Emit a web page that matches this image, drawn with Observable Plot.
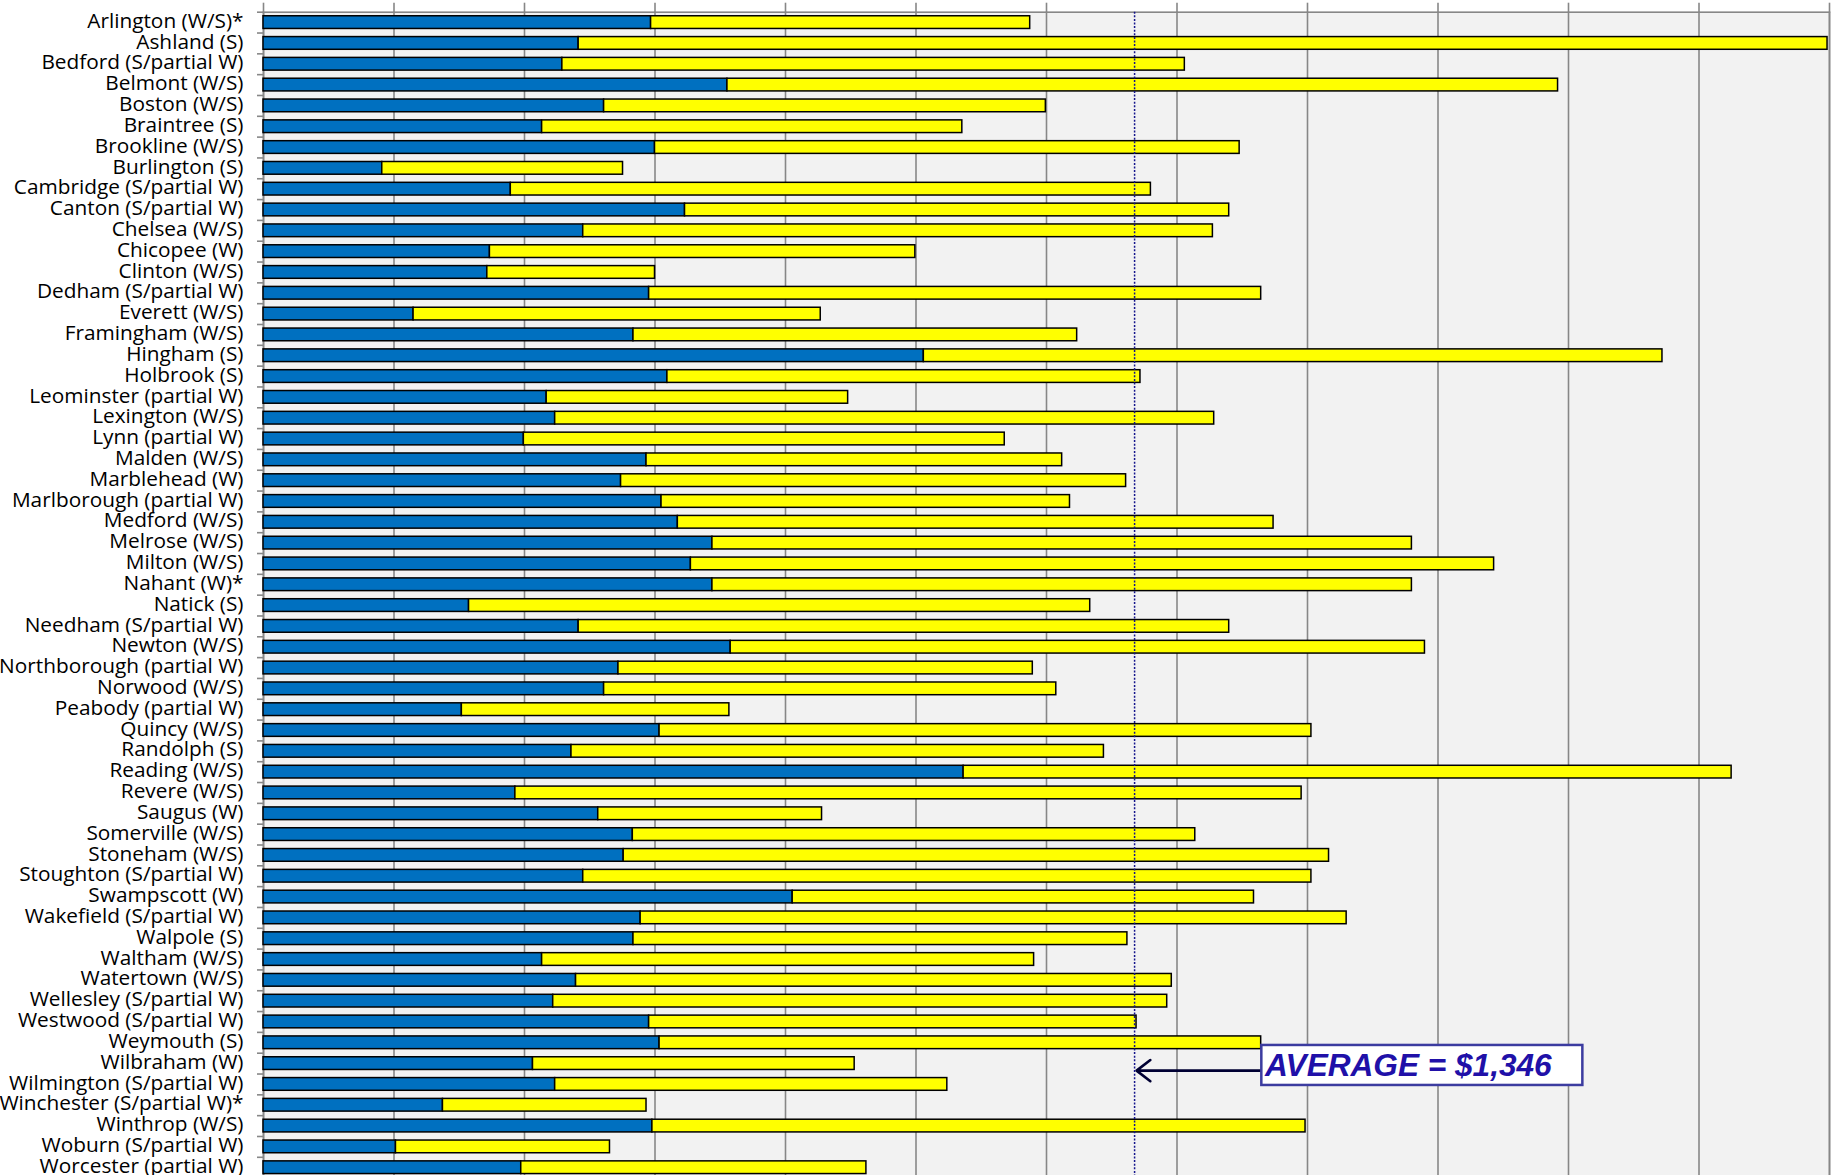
<!DOCTYPE html>
<html>
<head>
<meta charset="utf-8">
<script src="https://cdn.jsdelivr.net/npm/d3@7"></script>
<script src="https://cdn.jsdelivr.net/npm/@observablehq/plot@0.6"></script>
<style>
  html, body { margin: 0; padding: 0; background: #ffffff; overflow: hidden; }
  #chart svg { display: block; overflow: hidden; }
</style>
</head>
<body>
<div id="chart"></div>
<script>
// ---- data ----
const towns = [
  "Arlington (W/S)*", "Ashland (S)", "Bedford (S/partial W)", "Belmont (W/S)", "Boston (W/S)",
  "Braintree (S)", "Brookline (W/S)", "Burlington (S)", "Cambridge (S/partial W)", "Canton (S/partial W)",
  "Chelsea (W/S)", "Chicopee (W)", "Clinton (W/S)", "Dedham (S/partial W)", "Everett (W/S)",
  "Framingham (W/S)", "Hingham (S)", "Holbrook (S)", "Leominster (partial W)", "Lexington (W/S)",
  "Lynn (partial W)", "Malden (W/S)", "Marblehead (W)", "Marlborough (partial W)", "Medford (W/S)",
  "Melrose (W/S)", "Milton (W/S)", "Nahant (W)*", "Natick (S)", "Needham (S/partial W)",
  "Newton (W/S)", "Northborough (partial W)", "Norwood (W/S)", "Peabody (partial W)", "Quincy (W/S)",
  "Randolph (S)", "Reading (W/S)", "Revere (W/S)", "Saugus (W)", "Somerville (W/S)",
  "Stoneham (W/S)", "Stoughton (S/partial W)", "Swampscott (W)", "Wakefield (S/partial W)", "Walpole (S)",
  "Waltham (W/S)", "Watertown (W/S)", "Wellesley (S/partial W)", "Westwood (S/partial W)", "Weymouth (S)",
  "Wilbraham (W)", "Wilmington (S/partial W)", "Winchester (S/partial W)*", "Winthrop (W/S)", "Woburn (S/partial W)",
  "Worcester (partial W)"
];
// end of the blue segment ($)
const blueCost = [
  594, 483, 458, 711, 522,
  427, 600, 182, 379, 646,
  490, 347, 343, 591, 230,
  567, 1012, 619, 434, 447,
  399, 587, 548, 610, 635,
  688, 655, 688, 315, 483,
  716, 544, 522, 304, 607,
  472, 1073, 386, 513, 566,
  552, 490, 811, 578, 567,
  427, 479, 444, 591, 607,
  413, 447, 275, 596, 203,
  395
];
// end of the yellow segment = total ($)
const totalCost = [
  1175, 2397, 1412, 1984, 1199,
  1071, 1496, 551, 1360, 1480,
  1455, 999, 600, 1529, 854,
  1247, 2144, 1344, 896, 1457,
  1136, 1224, 1322, 1236, 1548,
  1760, 1886, 1760, 1267, 1480,
  1780, 1179, 1215, 714, 1606,
  1288, 2250, 1591, 856, 1428,
  1633, 1606, 1518, 1660, 1324,
  1181, 1392, 1385, 1338, 1529,
  906, 1048, 587, 1597, 531,
  924
];
const gridTicks = [0, 200, 400, 600, 800, 1000, 1200, 1400, 1600, 1800, 2000, 2200, 2400];
const averageLine = 1335;           // where the dotted average line sits
const averageText = "AVERAGE = $1,346";
const noteRow = "Wilbraham (W)";    // row the callout sits on
const noteBoxFrom = 1530, noteBoxTo = 2022, noteTextAt = 1535;

// ---- build tables ----
const rows = towns.map((t, i) => ({town: t, blue: blueCost[i], total: totalCost[i]}));
const note = [{town: noteRow, label: averageText}];

const W = 1835, H = 1175;
const plotTop = 11.7, step = 20.82;
const yRange = [plotTop, plotTop + step * towns.length];

const chart = Plot.plot({
  width: W,
  height: H,
  marginLeft: 263,
  marginRight: 6,
  marginTop: plotTop,
  marginBottom: -6,
  style: {background: "#ffffff", overflow: "hidden"},
  x: {domain: [0, 2400], axis: null},
  y: {domain: towns, range: yRange, paddingInner: 0.39, paddingOuter: 0.195, round: false, axis: null},
  marks: [
    Plot.frame({fill: "#f2f2f2"}),
    Plot.ruleX(gridTicks, {stroke: "#878787", strokeWidth: 1.6}),
    Plot.axisX({anchor: "top", ticks: gridTicks, tickSize: 10, fill: "none", label: null, stroke: "#878787", strokeWidth: 1.6}),
    Plot.frame({stroke: "#878787", strokeWidth: 1.6}),
    Plot.axisY({anchor: "left", tickSize: 6, fill: "none", label: null, dy: -step / 2, stroke: "#878787", strokeWidth: 1.6}),
    Plot.axisY({anchor: "left", tickSize: 0, tickPadding: 20, label: null, fontSize: 20.8, fontFamily: "Open Sans", fill: "#000", dy: -1.5}),
    Plot.barX(rows, {x1: 0, x2: "blue", y: "town", fill: "#0070c0", stroke: "#000", strokeWidth: 1.5}),
    Plot.barX(rows, {x1: "blue", x2: "total", y: "town", fill: "#ffff00", stroke: "#000", strokeWidth: 1.5}),
    Plot.ruleX([averageLine], {stroke: "#14148c", strokeWidth: 1.5, strokeDasharray: "2 1.6"}),
    Plot.arrow(note, {x1: noteBoxFrom, x2: averageLine, y1: "town", y2: "town", dy: 7, stroke: "#000033", strokeWidth: 2.6, headLength: 10, headAngle: 75, insetEnd: 2}),
    Plot.barX(note, {x1: noteBoxFrom, x2: noteBoxTo, y: "town", fill: "#ffffff", stroke: "#3c3ca0", strokeWidth: 2.5, insetTop: -11.8, insetBottom: -15.5}),
    Plot.text(note, {x: noteTextAt, y: "town", text: "label", textAnchor: "start", dy: 2, fontSize: 31.6, fontWeight: "bold", fontStyle: "italic", fontFamily: "Liberation Sans, Arial, sans-serif", fill: "#2010a8"})
  ]
});
document.getElementById("chart").appendChild(chart);
</script>
</body>
</html>
